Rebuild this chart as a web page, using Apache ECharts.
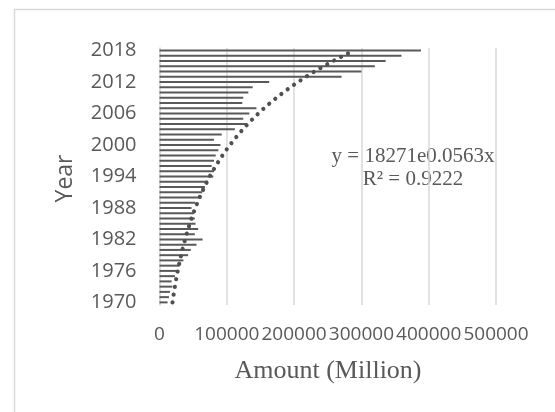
<!DOCTYPE html>
<html>
<head>
<meta charset="utf-8">
<script src="https://cdn.jsdelivr.net/npm/echarts@6/dist/echarts.min.js"></script>
<style>
  html, body { margin: 0; padding: 0; background: #fff; }
  #chart { width: 555px; height: 412px; }
</style>
</head>
<body>
<div id="chart"></div>
<script>
// Years on the category axis (bottom to top)
const years = [];
for (let y = 1970; y <= 2018; y++) years.push(String(y));

// Amount per year, in millions
const amounts = [
  12000, 14000, 15500, 19000, 18000, 23000, 25000, 30000, 35500, 42500,
  46500, 55000, 64000, 52500, 57500, 53500, 52500, 51500, 47500, 53000,
  60000, 63500, 67500, 72000, 80000, 81000, 77500, 81000, 83500, 87500,
  90500, 81000, 92500, 112000, 130000, 124500, 133500, 144000, 123000, 124500,
  132000, 138500, 163000, 270500, 300000, 320000, 336000, 359500, 388500
];

// Exponential trendline y = a * e^(b x), x = 1..n, as printed on the chart
const trendA = 18271;
const trendB = 0.0563;
const trendR2 = 0.9222;

const trend = years.map((_, i) => trendA * Math.exp(trendB * (i + 1)));

const textGrey = '#595959';
const gridGrey = '#d9d9d9';

const chart = echarts.init(document.getElementById('chart'), null, { renderer: 'canvas' });
chart.setOption({
  animation: false,
  backgroundColor: '#ffffff',
  grid: { left: 159.5, right: 59, top: 48, bottom: 107, containLabel: false },
  xAxis: {
    type: 'value',
    min: 0,
    max: 500000,
    interval: 100000,
    axisLine: { show: false },
    axisTick: { show: false },
    splitLine: { show: true, lineStyle: { color: gridGrey, width: 1.5 } },
    axisLabel: {
      color: textGrey,
      fontFamily: 'Open Sans',
      fontSize: 19,
      margin: 20,
      showMinLabel: true,
      showMaxLabel: true,
      hideOverlap: false,
      formatter: v => String(v)
    }
  },
  yAxis: {
    type: 'category',
    data: years,
    boundaryGap: true,
    axisLine: { show: true, lineStyle: { color: gridGrey, width: 1.5 } },
    axisTick: { show: false },
    axisLabel: {
      interval: 5,
      color: textGrey,
      fontFamily: 'Open Sans',
      fontSize: 20,
      margin: 23
    }
  },
  series: [
    {
      type: 'bar',
      data: amounts,
      barWidth: 2,
      itemStyle: { color: '#595959' },
      z: 2
    },
    {
      type: 'line',
      data: trend,
      symbol: 'none',
      smooth: false,
      lineStyle: { color: '#505050', width: 4.2, type: [0.01, 7.8], cap: 'round' },
      z: 3
    }
  ],
  graphic: [
    {
      type: 'rect',
      shape: { x: 14.5, y: 9.5, width: 700, height: 600 },
      style: { fill: 'none', stroke: gridGrey, lineWidth: 1.5 },
      silent: true
    },
    {
      type: 'text',
      x: 65.5, y: 178.5,
      rotation: Math.PI / 2,
      style: {
        text: 'Year', fill: textGrey, fontFamily: 'Open Sans', fontSize: 23,
        textAlign: 'center', textVerticalAlign: 'middle'
      }
    },
    {
      type: 'text',
      x: 328, y: 371.5,
      style: {
        text: 'Amount (Million)', fill: textGrey, fontFamily: 'Liberation Serif', fontSize: 26,
        textAlign: 'center', textVerticalAlign: 'middle'
      }
    },
    {
      type: 'text',
      x: 413, y: 156,
      style: {
        text: 'y = ' + trendA + 'e' + trendB + 'x', fill: textGrey, fontFamily: 'Liberation Serif', fontSize: 21,
        textAlign: 'center', textVerticalAlign: 'middle'
      }
    },
    {
      type: 'text',
      x: 413, y: 179.5,
      style: {
        text: 'R² = ' + trendR2, fill: textGrey, fontFamily: 'Liberation Serif', fontSize: 21,
        textAlign: 'center', textVerticalAlign: 'middle'
      }
    }
  ]
});
</script>
</body>
</html>
